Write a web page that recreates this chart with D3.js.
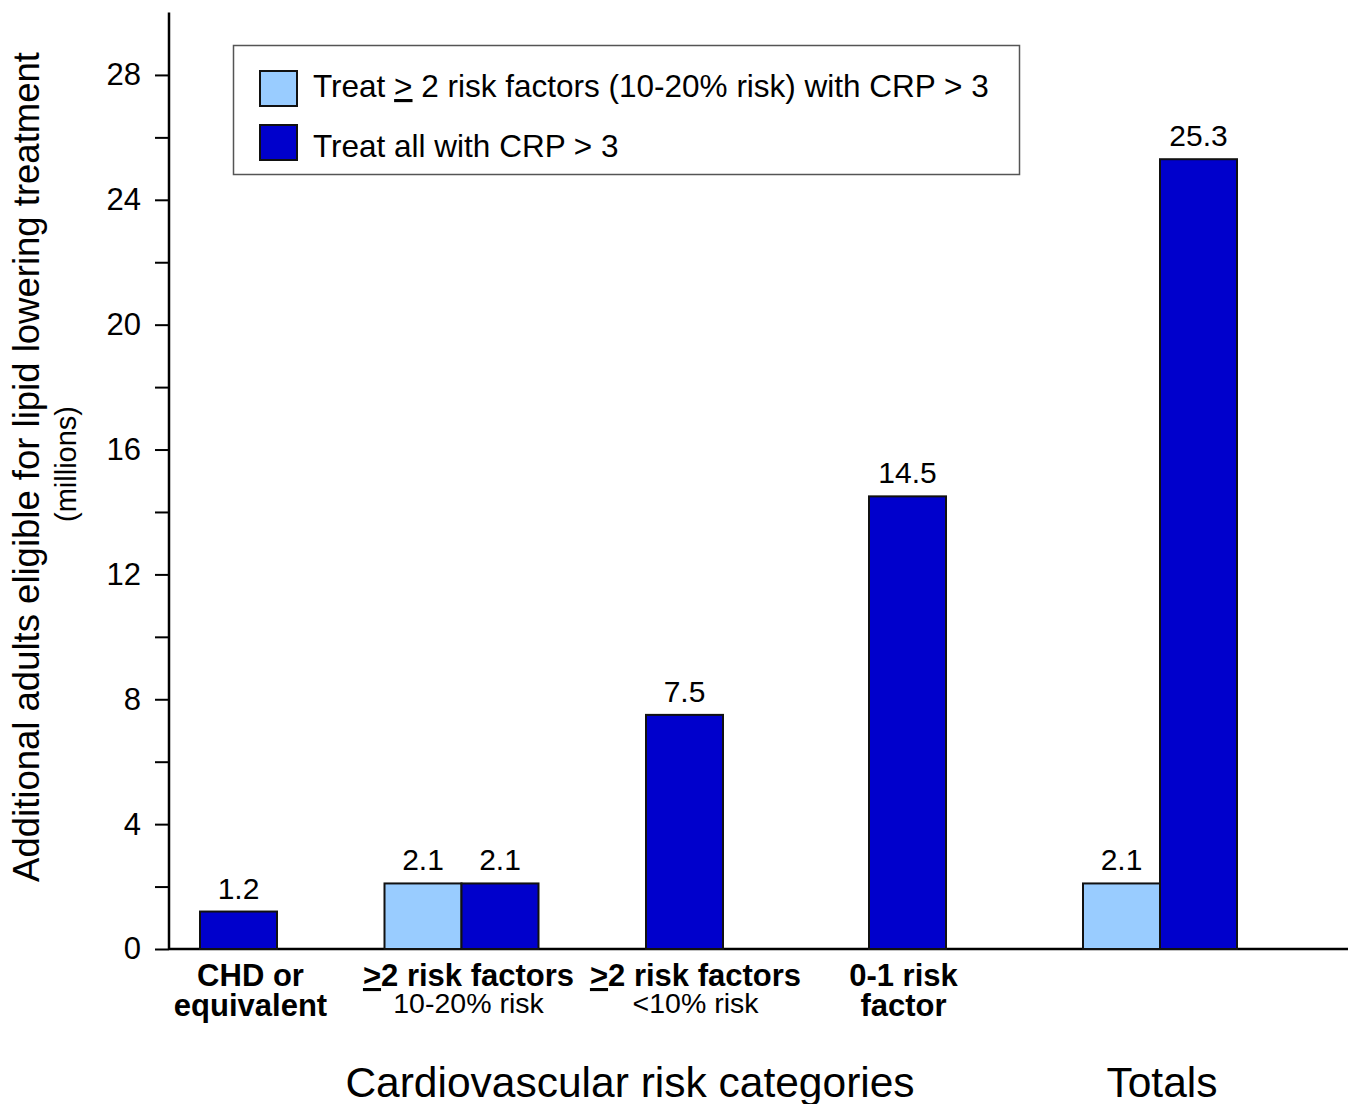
<!DOCTYPE html>
<html>
<head>
<meta charset="utf-8">
<script src="https://cdn.jsdelivr.net/npm/d3@7/dist/d3.min.js"></script>
<style>
  html, body { margin: 0; padding: 0; background: #fff; }
  svg { display: block; font-family: "Liberation Sans", Arial, Helvetica, sans-serif; }
</style>
</head>
<body>
<svg id="chart" width="1351" height="1104"></svg>
<script>
// ---- data ----
const riskCategories = ["CHD or equivalent", ">=2 risk factors 10-20% risk", ">=2 risk factors <10% risk", "0-1 risk factor"];
const totalCategories = ["Totals"];
const categories = riskCategories.concat(totalCategories);
const seriesNames = ["Treat \u2265 2 risk factors (10-20% risk) with CRP > 3", "Treat all with CRP > 3"];
const seriesKeys = ["light", "dark"];
const lightValues = [null, 2.1, null, null, 2.1];
const darkValues  = [1.2, 2.1, 7.5, 14.5, 25.3];
const yTickValues = [0, 2, 4, 6, 8, 10, 12, 14, 16, 18, 20, 22, 24, 26, 28];
const yLabelTicks = [0, 4, 8, 12, 16, 20, 24, 28];
const yMax = 30;

// ---- layout / style ----
const colors = { light: "#99ccff", dark: "#0000cc" };
const svg = d3.select("#chart");
const axisX = 169, baseY = 949, topY = 12.5;
const barW = 77;

const y = d3.scaleLinear().domain([0, yMax]).range([baseY, topY]);
const xRisk = d3.scaleBand().domain(riskCategories).range([127, 1019]);
const xTot = d3.scaleBand().domain(totalCategories).range([1050, 1270]);
const xCenter = c => riskCategories.includes(c) ? xRisk(c) + xRisk.bandwidth() / 2 : xTot(c) + xTot.bandwidth() / 2;
const inner = d3.scaleBand().domain(seriesKeys).range([-barW, barW]);

// build bar records
const bars = [];
categories.forEach((c, i) => {
  const vals = { light: lightValues[i], dark: darkValues[i] };
  const present = seriesKeys.filter(k => vals[k] != null);
  present.forEach(k => {
    let x0;
    if (present.length === 1) x0 = xCenter(c) - barW / 2;
    else x0 = xCenter(c) + inner(k);
    bars.push({ cat: c, key: k, value: vals[k], x: x0 });
  });
});

// x axis baseline
svg.append("line")
  .attr("x1", axisX).attr("x2", 1348)
  .attr("y1", y(0)).attr("y2", y(0))
  .attr("stroke", "#000").attr("stroke-width", 2.5);

// bars
svg.append("g").selectAll("rect").data(bars).join("rect")
  .attr("x", d => d.x)
  .attr("y", d => y(d.value))
  .attr("width", barW)
  .attr("height", d => y(0) - y(d.value))
  .attr("fill", d => colors[d.key])
  .attr("stroke", "#111").attr("stroke-width", 2);

// value labels
svg.append("g").selectAll("text").data(bars).join("text")
  .attr("x", d => d.x + barW / 2)
  .attr("y", d => y(d.value) - 13)
  .attr("text-anchor", "middle")
  .attr("font-size", 30)
  .attr("fill", "#000")
  .text(d => d.value.toFixed(1));

// y axis
const yAxis = d3.axisLeft(y)
  .tickValues(yTickValues)
  .tickFormat(d => yLabelTicks.includes(d) ? d : "")
  .tickSize(14).tickPadding(14);
const gy = svg.append("g").attr("transform", `translate(${axisX},0)`).call(yAxis);
gy.select(".domain").remove();
gy.selectAll(".tick line").attr("stroke", "#000").attr("stroke-width", 2);
gy.selectAll(".tick text").attr("font-size", 31).attr("font-family", "Liberation Sans, Arial, sans-serif").attr("fill", "#000");
svg.append("line")
  .attr("x1", axisX).attr("x2", axisX)
  .attr("y1", topY).attr("y2", y(0) + 1)
  .attr("stroke", "#000").attr("stroke-width", 2.5);

// y axis title
svg.append("text")
  .attr("transform", "translate(39,467) rotate(-90)")
  .attr("text-anchor", "middle")
  .attr("font-size", 36.5)
  .text("Additional adults eligible for lipid lowering treatment");
svg.append("text")
  .attr("transform", "translate(76,464) rotate(-90)")
  .attr("text-anchor", "middle")
  .attr("font-size", 29)
  .text("(millions)");

// category labels
const catLabelDefs = [
  { cat: riskCategories[0], dx: 12, lines: [{ parts: [{ t: "CHD or" }], bold: true }, { parts: [{ t: "equivalent" }], bold: true }] },
  { cat: riskCategories[1], dx: 7, lines: [{ parts: [{ t: ">", u: true }, { t: "2 risk factors" }], bold: true }, { parts: [{ t: "10-20% risk" }], bold: false }] },
  { cat: riskCategories[2], dx: 11, lines: [{ parts: [{ t: ">", u: true }, { t: "2 risk factors" }], bold: true }, { parts: [{ t: "<10% risk" }], bold: false }] },
  { cat: riskCategories[3], dx: -4, lines: [{ parts: [{ t: "0-1 risk" }], bold: true }, { parts: [{ t: "factor" }], bold: true }] }
];
catLabelDefs.forEach(def => {
  const cx = xCenter(def.cat) + def.dx;
  def.lines.forEach((ln, li) => {
    const t = svg.append("text")
      .attr("x", cx)
      .attr("y", li === 0 ? 986 : (ln.bold ? 1016 : 1013))
      .attr("text-anchor", "middle")
      .attr("font-size", ln.bold ? 31 : 28.5)
      .attr("font-weight", ln.bold ? "bold" : "normal");
    ln.parts.forEach(p => {
      const ts = t.append("tspan").text(p.t);
      if (p.u) ts.style("text-decoration", "underline");
    });
  });
});

// section titles
svg.append("text").attr("x", 630).attr("y", 1097).attr("text-anchor", "middle")
  .attr("font-size", 42.5).text("Cardiovascular risk categories");
svg.append("text").attr("x", xCenter("Totals") + 2).attr("y", 1097).attr("text-anchor", "middle")
  .attr("font-size", 42.5).text("Totals");

// legend
const lg = svg.append("g");
lg.append("rect").attr("x", 233.5).attr("y", 45.5).attr("width", 786).attr("height", 129)
  .attr("fill", "#fff").attr("stroke", "#555").attr("stroke-width", 1.5);
seriesKeys.forEach((k, i) => {
  const yy = 71 + i * 54;
  lg.append("rect").attr("x", 260).attr("y", yy).attr("width", 37).attr("height", 35)
    .attr("fill", colors[k]).attr("stroke", "#111").attr("stroke-width", 2);
  const t = lg.append("text").attr("x", 313).attr("y", 97 + i * 60).attr("font-size", 31.5);
  if (i === 0) {
    t.append("tspan").text("Treat ");
    t.append("tspan").text(">").style("text-decoration", "underline");
    t.append("tspan").text(" 2 risk factors (10-20% risk) with CRP > 3");
  } else {
    t.text(seriesNames[1]);
  }
});
</script>
</body>
</html>
